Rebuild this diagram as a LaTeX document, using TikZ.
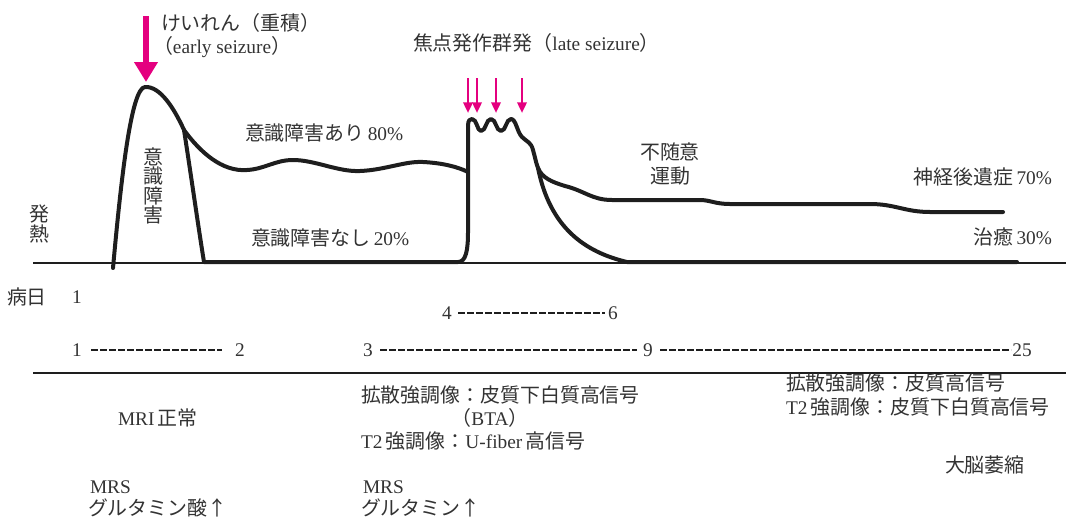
\documentclass[tikz,border=0pt]{standalone}
\usepackage{fontspec}
\setmainfont{Liberation Serif}
\newfontfamily\jpf[Scale=1.03]{Noto Sans CJK JP}
\usetikzlibrary{arrows.meta}
\definecolor{mag}{HTML}{E4007F}
\definecolor{ink}{HTML}{1E1E1E}
\definecolor{txt}{HTML}{333333}
\newcommand{\jg}{\hspace{2.5pt}}
\begin{document}
\begin{tikzpicture}[x=0.75pt,y=-0.75pt,
  every node/.style={inner sep=0pt,outer sep=0pt,text=txt,font=\fontsize{14.5}{17}\selectfont},
  curve/.style={draw=ink,line width=3pt,line join=round,line cap=round},
  thinline/.style={draw=ink,line width=1pt},
  sepline/.style={draw=ink,line width=1.2pt},
  dashrow/.style={draw=ink,line width=2.2pt,dash pattern=on 5pt off 1.75pt},
  bigarrow/.style={draw=mag,line width=4.5pt,-{Triangle[width=17pt,length=15pt]}},
  smallarrow/.style={draw=mag,line width=1.8pt,-{Triangle[width=7pt,length=8pt]}},
  vtext/.style={align=center,font=\jpf\fontsize{14.5}{14.6}\selectfont},
]
\useasboundingbox (0,0) rectangle (1066,518);

% axis lines
\coordinate (b0) at (33,263);
\coordinate (b1) at (1066,263);
\draw[thinline] (b0) -- (b1);
\coordinate (s0) at (33,373);
\coordinate (s1) at (1066,373);
\draw[sepline] (s0) -- (s1);

% outer curve (consciousness disturbance 80%)
\draw[curve] (113,268) .. controls (121,180) and (131,88) .. (145,87)
  .. controls (160,86) and (174,108) .. (184,130)
  .. controls (200,152) and (222,172) .. (247,170)
  .. controls (265,169) and (275,160) .. (293,160)
  .. controls (315,160) and (338,172) .. (360,171)
  .. controls (385,170) and (405,161) .. (423,162)
  .. controls (443,163) and (458,167) .. (468,172);

% inner curve, late seizure, lower branch
\draw[curve] (184,130) .. controls (191,175) and (198,225) .. (204,262)
  -- (458,262) .. controls (466,262) and (468,250) .. (468,232)
  -- (468,126) .. controls (468,120) and (470,119) .. (472,119)
  .. controls (477,119) and (477,131) .. (481,131)
  .. controls (486,131) and (486,119) .. (491,119)
  .. controls (496,119) and (496,131) .. (501,131)
  .. controls (506,131) and (506,119) .. (511,119)
  .. controls (516,119) and (517,132) .. (522,137)
  .. controls (527,142) and (531,142) .. (533,150)
  .. controls (535,157) and (536,163) .. (538,168)
  .. controls (550,228) and (585,252) .. (627,262) -- (1017,262);

% upper branch
\draw[curve] (538,168) .. controls (542,178) and (552,182) .. (565,186)
  .. controls (585,191) and (592,200) .. (612,200) -- (700,200)
  .. controls (710,200) and (715,204) .. (730,204) -- (870,204)
  .. controls (895,204) and (905,212) .. (930,212) -- (1003,212);

% arrows
\coordinate (ea0) at (146,16);
\coordinate (ea1) at (146,82);
\draw[bigarrow] (ea0) -- (ea1);
\foreach \i/\xx in {1/468,2/477,3/496,4/522}{
  \coordinate (la\i a) at (\xx,78);
  \coordinate (la\i b) at (\xx,113);
  \draw[smallarrow] (la\i a) -- (la\i b);
}

% labels top
\node[anchor=west] (early1) at (161,23) {\jpf けいれん（重積）};
\node[anchor=west] (early2) at (153,47) {{\jpf （}early seizure{\jpf ）}};
\node[anchor=west] (late) at (413,43) {{\jpf 焦点発作群発（}late seizure{\jpf ）}};
\node[anchor=west] (ari) at (245,133) {{\jpf 意識障害あり}\jg 80\%};
\node[anchor=west] (nashi) at (251,238) {{\jpf 意識障害なし}\jg 20\%};
\node[vtext] (ishiki) at (153,186) {意\\識\\障\\害};
\node[vtext] (hatsu) at (39,224) {発\\熱};
\node[align=center,font=\jpf\fontsize{14.5}{18}\selectfont] (fuzui) at (670,164) {不随意\\運動};
\node[anchor=east] (seq) at (1052,177) {{\jpf 神経後遺症}\jg 70\%};
\node[anchor=east] (chiyu) at (1052,237) {{\jpf 治癒}\jg 30\%};

% day rows
\node (byo) at (27,297) {\jpf 病日};
\node (d1) at (77,297) {1};
\node (d4) at (447,313) {4};
\node (d6) at (613,313) {6};
\coordinate (q4a) at (458,313);
\coordinate (q4b) at (605,313);
\draw[dashrow] (q4a) -- (q4b);
\node (e1) at (77,350) {1};
\node (e2) at (240,350) {2};
\coordinate (q1a) at (91,350);
\coordinate (q1b) at (222,350);
\draw[dashrow] (q1a) -- (q1b);
\node (e3) at (368,350) {3};
\node (e9) at (648,350) {9};
\node (e25) at (1022,350) {25};
\coordinate (q3a) at (380,350);
\coordinate (q3b) at (637,350);
\draw[dashrow] (q3a) -- (q3b);
\coordinate (q9a) at (660,350);
\coordinate (q9b) at (1011,350);
\draw[dashrow] (q9a) -- (q9b);

% bottom texts
\node[anchor=west] (mri) at (118,418) {MRI\jg{\jpf 正常}};
\node[anchor=west] (mrs1) at (90,487) {MRS};
\node[anchor=west] (glu1) at (88,508) {\jpf グルタミン酸↑};
\node[anchor=west] (dwi1) at (361,395) {\jpf 拡散強調像：皮質下白質高信号};
\node (bta) at (490,418) {{\jpf （}BTA{\jpf ）}};
\node[anchor=west] (t21) at (361,441) {T2\jg{\jpf 強調像：}U-fiber\jg{\jpf 高信号}};
\node[anchor=west] (mrs2) at (363,487) {MRS};
\node[anchor=west] (glu2) at (361,508) {\jpf グルタミン↑};
\node[anchor=west] (dwi2) at (786,383) {\jpf 拡散強調像：皮質高信号};
\node[anchor=west] (t22) at (786,407) {T2\jg{\jpf 強調像：皮質下白質高信号}};
\node[anchor=west] (atro) at (945,465) {\jpf 大脳萎縮};
\end{tikzpicture}
\end{document}
